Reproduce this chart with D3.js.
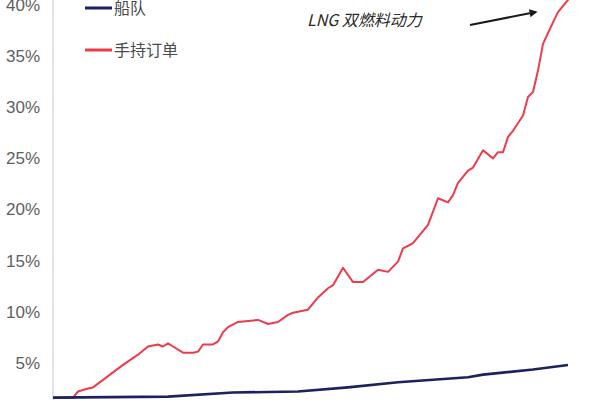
<!DOCTYPE html>
<html>
<head>
<meta charset="utf-8">
<script src="https://cdn.jsdelivr.net/npm/d3@7/dist/d3.min.js"></script>
<style>
  html, body { margin: 0; padding: 0; background: #fff; }
  svg { display: block; }
</style>
</head>
<body>
<svg id="chart" width="600" height="400"></svg>
<script>
// LNG dual-fuel share: fleet vs orderbook (month index from start of series)
const fleetMonths = [0, 23, 36, 49, 59, 69, 83, 86, 96, 103];
const fleetShare  = [1.6, 1.7, 2.1, 2.2, 2.6, 3.1, 3.6, 3.85, 4.35, 4.8];

const orderMonths = [0, 2, 4, 5, 7, 8, 11, 14, 17, 19, 21, 22, 23, 24, 26, 28, 29, 30, 32, 33,
  34, 35, 37, 41, 43, 45, 47, 48, 49, 51, 53, 55, 56, 58, 60, 62, 65, 67, 69, 70,
  72, 75, 77, 79, 80, 81, 83, 84, 86, 88, 89, 90, 91, 92, 94, 95, 96, 97, 98, 100,
  101, 103, 104];
const orderShare = [1.6, 1.6, 1.6, 2.2, 2.5, 2.6, 3.7, 4.8, 5.8, 6.6, 6.8, 6.6, 6.9, 6.6, 6.0, 6.0, 6.1, 6.8, 6.8, 7.1,
  8.0, 8.5, 9.0, 9.2, 8.8, 9.0, 9.7, 9.9, 10.0, 10.2, 11.4, 12.3, 12.6, 14.3, 12.9, 12.9, 14.1, 13.9, 14.9, 16.2,
  16.7, 18.5, 21.1, 20.7, 21.4, 22.6, 23.8, 24.1, 25.8, 25.0, 25.6, 25.6, 27.1, 27.7, 29.2, 31.0, 31.5, 33.6, 36.2, 38.3,
  39.3, 40.5, 41.0];

const yTicks = [5, 10, 15, 20, 25, 30, 35, 40];
const seriesNames = ["船队", "手持订单"];
const annotation = "LNG 双燃料动力";

const colors = { fleet: "#1c2260", order: "#ee3b4c", text: "#606060", axis: "#d8dbe6" };
const font = "'Liberation Sans Narrow', 'Liberation Sans', Arial, sans-serif";
const cjk = "'Noto Sans CJK SC', sans-serif";

const svg = d3.select("#chart");

const x = d3.scaleLinear().domain([0, 103.4]).range([53, 570]);
const y = d3.scaleLinear().domain([0, 40]).range([414, 5]);

// y axis
const gy = svg.append("g")
  .attr("transform", "translate(53,0)")
  .call(d3.axisLeft(y).tickValues(yTicks).tickSize(0).tickPadding(13).tickFormat(d => d + "%"));
gy.select(".domain").attr("stroke", colors.axis).attr("stroke-width", 1.5)
  .attr("d", `M0,${y(0)}V0`);
gy.selectAll("text")
  .attr("fill", colors.text)
  .attr("font-size", 17)
  .attr("font-family", font);

const line = d3.line()
  .x(d => x(d[0]))
  .y(d => y(d[1]))
  .curve(d3.curveLinear);

const fleetData = fleetMonths.map((m, i) => [m, fleetShare[i]]);
const orderData = orderMonths.map((m, i) => [m, orderShare[i]]);

svg.append("path")
  .datum(orderData)
  .attr("fill", "none")
  .attr("stroke", colors.order)
  .attr("stroke-width", 2)
  .attr("stroke-linejoin", "round")
  .attr("d", line);

svg.append("path")
  .datum(fleetData)
  .attr("fill", "none")
  .attr("stroke", colors.fleet)
  .attr("stroke-width", 2.6)
  .attr("stroke-linejoin", "round")
  .attr("d", line);

// legend
const legend = svg.append("g");
[colors.fleet, colors.order].forEach((c, i) => {
  const ly = 8 + i * 42;
  legend.append("line")
    .attr("x1", 85).attr("x2", 112)
    .attr("y1", ly).attr("y2", ly)
    .attr("stroke", c).attr("stroke-width", 3);
  legend.append("text")
    .attr("x", 114).attr("y", ly)
    .attr("dy", "0.35em")
    .attr("fill", "#4a4a4a")
    .attr("font-size", 16)
    .attr("font-family", cjk)
    .text(seriesNames[i]);
});

// annotation
svg.append("text")
  .attr("x", 307).attr("y", 20)
  .attr("dy", "0.35em")
  .attr("fill", "#2a2a2a")
  .attr("font-size", 16)
  .attr("font-style", "italic")
  .attr("font-family", cjk)
  .text(annotation);

svg.append("defs").append("marker")
  .attr("id", "arrow")
  .attr("viewBox", "0 0 10 10")
  .attr("refX", 8).attr("refY", 5)
  .attr("markerWidth", 4).attr("markerHeight", 4)
  .attr("orient", "auto")
  .append("path")
  .attr("d", "M0,0L10,5L0,10z")
  .attr("fill", "#1a1a1a");

svg.append("line")
  .attr("x1", 470).attr("y1", 25)
  .attr("x2", 536).attr("y2", 12)
  .attr("stroke", "#1a1a1a")
  .attr("stroke-width", 2)
  .attr("marker-end", "url(#arrow)");
</script>
</body>
</html>
